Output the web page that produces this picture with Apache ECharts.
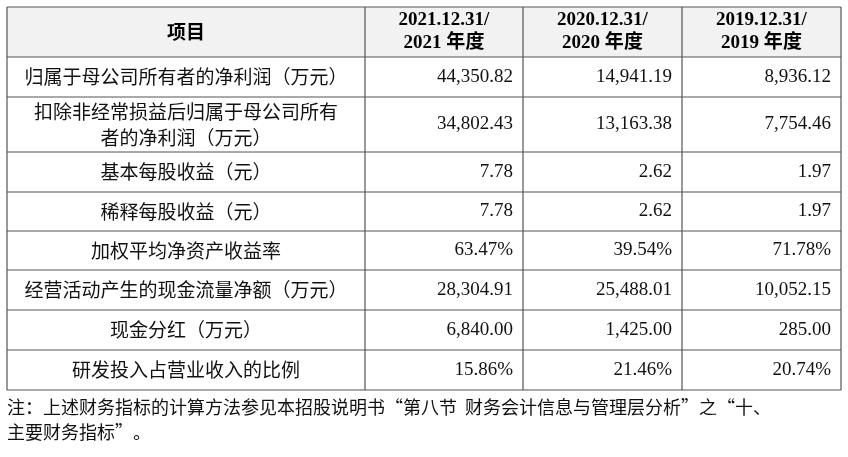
<!DOCTYPE html><html><head><meta charset="utf-8"><script src="https://cdn.jsdelivr.net/npm/echarts@6/dist/echarts.min.js"></script>
<style>html,body{margin:0;background:#fff}#c{width:848px;height:457px}</style></head><body><div id="c"></div><script>
const headers=['项目','2021.12.31/\n2021 年度','2020.12.31/\n2020 年度','2019.12.31/\n2019 年度'];
const items=['归属于母公司所有者的净利润（万元）','扣除非经常损益后归属于母公司所有\n者的净利润（万元）','基本每股收益（元）','稀释每股收益（元）','加权平均净资产收益率','经营活动产生的现金流量净额（万元）','现金分红（万元）','研发投入占营业收入的比例'];
const v2021=['44,350.82','34,802.43','7.78','7.78','63.47%','28,304.91','6,840.00','15.86%'];
const v2020=['14,941.19','13,163.38','2.62','2.62','39.54%','25,488.01','1,425.00','21.46%'];
const v2019=['8,936.12','7,754.46','1.97','1.97','71.78%','10,052.15','285.00','20.74%'];
const note='注：上述财务指标的计算方法参见本招股说明书“第八节  财务会计信息与管理层分析”之“十、\n主要财务指标”。';
const colX=[7,365,523,682,841];
const rowY=[7,57,97,152,192,231,270,310,350,390];
const cjk='"Noto Sans CJK SC",sans-serif', ser='"Liberation Serif","Noto Sans CJK SC",serif';
const g=[];
g.push({type:'rect',shape:{x:colX[0],y:rowY[0],width:colX[4]-colX[0],height:rowY[1]-rowY[0]},style:{fill:'#f2f2f2'}});
rowY.forEach(y=>g.push({type:'line',shape:{x1:colX[0],y1:y,x2:colX[4],y2:y},style:{stroke:'#555',lineWidth:1.2}}));
colX.forEach(x=>g.push({type:'line',shape:{x1:x,y1:rowY[0],x2:x,y2:rowY[9]},style:{stroke:'#555',lineWidth:1.2}}));
headers.forEach((h,i)=>g.push({type:'text',x:(colX[i]+colX[i+1])/2,y:(rowY[0]+rowY[1])/2,style:{text:h,fill:'#000',font:'bold 19px '+(i?ser:cjk),align:'center',verticalAlign:'middle',lineHeight:23}}));
const cols=[v2021,v2020,v2019];
items.forEach((t,r)=>{const cy=(rowY[r+1]+rowY[r+2])/2;
 g.push({type:'text',x:(colX[0]+colX[1])/2,y:cy,style:{text:t,fill:'#111',font:'19px '+cjk,align:'center',verticalAlign:'middle',lineHeight:26}});
 cols.forEach((c,j)=>g.push({type:'text',x:colX[j+2]-10,y:cy,style:{text:c[r],fill:'#111',font:'19px '+ser,align:'right',verticalAlign:'middle'}}));
});
g.push({type:'text',x:7,y:395,style:{text:note,fill:'#111',font:'18px '+cjk,lineHeight:25,align:'left',verticalAlign:'top'}});
echarts.init(document.getElementById('c')).setOption({animation:false,graphic:g});
</script></body></html>
